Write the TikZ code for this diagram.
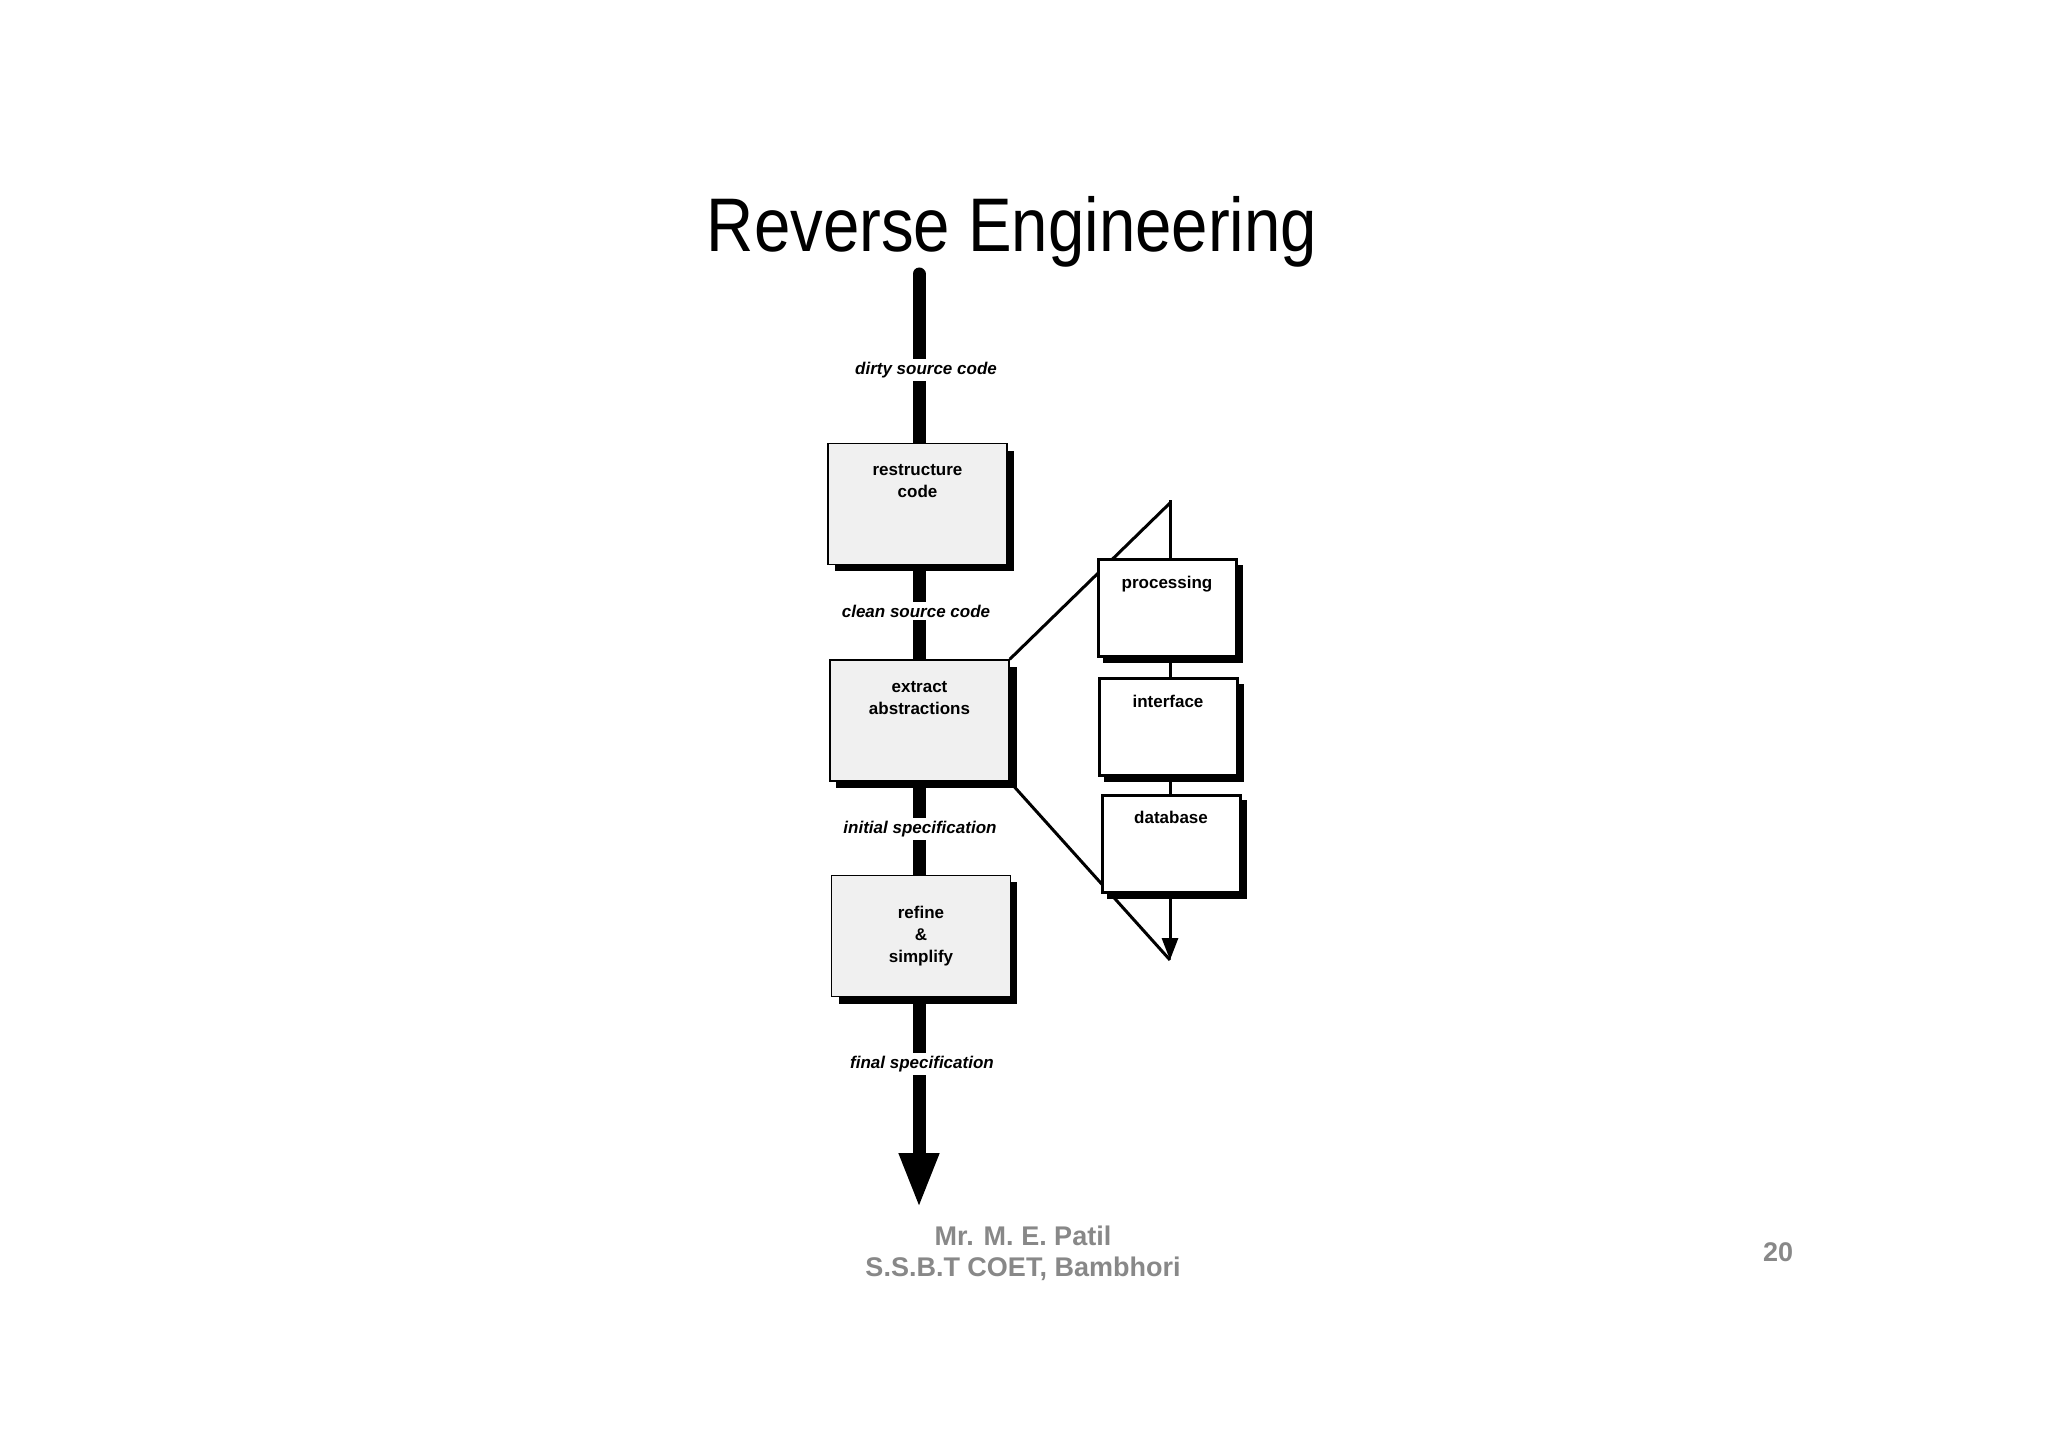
\documentclass[tikz,border=0pt]{standalone}
\usepackage{fontspec}
\setmainfont{Liberation Sans}
\usetikzlibrary{arrows.meta}
\begin{document}
\begin{tikzpicture}[x=1pt,y=-1pt,
  lbox/.style={draw=black,line width=1.5pt,fill={rgb,255:red,240;green,240;blue,240},minimum width=179pt,minimum height=121pt,inner sep=0pt,align=center,font=\fontsize{17}{22}\selectfont\bfseries},
  rbox/.style={draw=black,line width=3pt,fill=white,minimum width=138pt,minimum height=97pt,inner sep=0pt,align=center,font=\fontsize{17}{22}\selectfont\bfseries},
  shadow/.style={fill=black},
  lab/.style={fill=white,inner sep=3pt,font=\fontsize{17}{20}\selectfont\bfseries\itshape},
  foot/.style={text={rgb,255:red,136;green,136;blue,136},font=\fontsize{27}{30}\selectfont\bfseries}]
\useasboundingbox (0,0) rectangle (2048,1447);
\node[font=\fontsize{76}{80}\selectfont,xscale=0.86] (title) at (1012,232) {Reverse Engineering};
% main pipe
\coordinate (top) at (919,274);
\coordinate (bot) at (919,1208);
\draw[line width=13pt,line cap=round] (top) -- (919,1150);
\draw[line width=13pt,-{Triangle[width=37pt,length=55pt]}] (919,1140) -- (bot);
% shadows
\fill[shadow] (835,451) rectangle (1014,571);
\fill[shadow] (836,667) rectangle (1017,788);
\fill[shadow] (839,882) rectangle (1017,1004);
\node[lbox] (rc) at (917.5,504) {restructure\\code\\[24pt]};
\node[lbox] (ea) at (919.5,720.5) {extract\\abstractions\\[24pt]};
\node[lbox] (rs) at (921,936) {refine\\\&\\simplify};
\node[lab] (l1) at (926,370) {dirty source code};
\node[lab] (l2) at (916,611) {clean source code};
\node[lab] (l3) at (920,829) {initial specification};
\node[lab] (l4) at (922,1064) {final specification};
% right side
\coordinate (rt) at (1170,500);
\coordinate (rb) at (1170,960);
\draw[line width=3pt] (rt) -- (1170,940);
\draw[line width=3pt,-{Triangle[width=16pt,length=22pt]}] (1170,930) -- (rb);
\draw[line width=3pt] (1170,503) -- (ea.north east);
\draw[line width=3pt] (1010,782) -- (1170,960);
\fill[shadow] (1103,565) rectangle (1243,663);
\fill[shadow] (1104,684) rectangle (1244,782);
\fill[shadow] (1107,800) rectangle (1247,899);
\node[rbox] (p) at (1167,608) {processing\\[30pt]};
\node[rbox] (i) at (1168,727) {interface\\[30pt]};
\node[rbox] (d) at (1171,843.5) {database\\[30pt]};
\node[foot] (f1) at (1023,1236) {Mr. M. E. Patil};
\node[foot] (f2) at (1023,1269) {S.S.B.T COET, Bambhori};
\node[foot] (pg) at (1778,1252) {20};
\end{tikzpicture}
\end{document}
